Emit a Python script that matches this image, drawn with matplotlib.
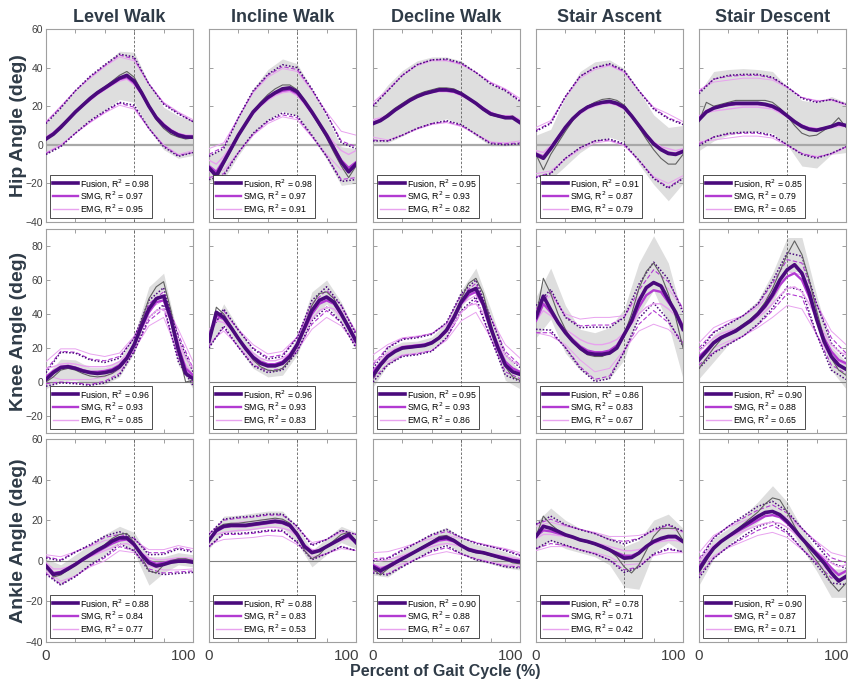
import numpy as np
import matplotlib
matplotlib.use("Agg")
import matplotlib.pyplot as plt
from matplotlib.lines import Line2D
from matplotlib import transforms

plt.rcParams["font.family"] = ["Liberation Sans", "DejaVu Sans"]

# gait cycle samples: means every 5 %, spreads every 10 %
pct = np.arange(0, 101, 5)
pct_coarse = np.arange(0, 101, 10)

tasks = ["Level Walk", "Incline Walk", "Decline Walk", "Stair Ascent", "Stair Descent"]
joints = ["Hip", "Knee", "Ankle"]

# ---------------- hip ----------------
hip_truth = [
    [3, 6, 10, 13.5, 17.5, 21, 24.5, 27.5, 30, 33, 36, 38, 35, 28, 20, 13, 8.5, 5.5, 4, 3, 3.5],
    [-12, -18, -10, -3, 4.5, 11, 17, 22, 26, 29, 31, 31, 28.5, 23, 16.5, 10, 3.5, -4, -11, -17, -11],
    [11, 13, 16, 19, 21.5, 24, 26, 27.5, 28.5, 29.5, 29.5, 29, 27, 24, 21, 18, 15.5, 14.5, 14, 15, 11],
    [-5, -13, -5, 1, 7, 12.5, 17, 20, 22, 23.5, 24, 23, 20.5, 15, 9, 3, -2.5, -7, -10, -10, -5],
    [12, 22, 20, 21, 22, 23, 23, 23, 23, 23, 22, 19, 15, 10, 6, 4.5, 5, 7.5, 10, 14, 9],
]
hip_fusion = [
    [3, 5.5, 9, 13, 17, 20.5, 24, 27, 29.5, 32, 34.5, 36, 33, 27, 20, 14, 10, 7, 5, 4, 4],
    [-12, -16, -9, -2, 5, 11, 17, 21, 24.5, 27, 29, 29.5, 27.5, 22.5, 17, 11, 5, -2, -9, -14, -10],
    [11, 12.5, 15, 18, 20.5, 23, 25, 26.5, 27.5, 28.5, 28.5, 28, 26.5, 24, 21.5, 18.5, 16, 15, 14, 14, 11.5],
    [-5, -7, -2, 3.5, 9, 13.5, 17, 19.5, 21, 22, 22.5, 21.5, 19.5, 15, 10, 5, 0.5, -2.5, -4.5, -5, -3.5],
    [13, 17, 19, 20, 21, 21.5, 21.5, 21.5, 21.5, 21, 20, 18, 15, 12, 9.5, 8, 7.5, 8.5, 9.5, 11, 10],
]
hip_smg = [
    [3.5, 6, 9.5, 13, 17, 20.5, 23.5, 26.5, 29, 31.5, 34, 35, 32, 26.5, 20, 14.5, 10.5, 7.5, 5.5, 4.5, 4],
    [-11, -14, -8, -1.5, 5, 11, 16.5, 20.5, 24, 26.5, 28, 28.5, 26.5, 22, 16.5, 11, 5, -1.5, -8, -12, -9],
    [11.5, 13, 15, 18, 20.5, 23, 25, 26.5, 27.5, 28, 28, 27.5, 26, 24, 21.5, 19, 16.5, 15, 14.5, 14.5, 12],
    [-4.5, -6, -1.5, 4, 9, 13.5, 17, 19.5, 21, 22, 22, 21, 19, 15, 10, 5, 1, -2, -4, -4.5, -3],
    [14, 17.5, 19, 20, 20.5, 21, 21, 21, 21, 20.5, 19.5, 17.5, 15, 12, 10, 8.5, 8, 8.5, 9.5, 10.5, 10],
]
hip_emg = [
    [4, 6.5, 10, 13.5, 17, 20, 23, 26, 28.5, 31, 33, 34, 31, 26, 20, 15, 11, 8, 6, 5, 5],
    [-8, -10, -6, -0.5, 5, 10.5, 16, 20, 23, 25.5, 27, 27.5, 25.5, 21, 16, 11, 6, 1, -3, -5, -3],
    [13, 14, 15.5, 18, 20.5, 22.5, 24.5, 26, 27, 27.5, 27.5, 27, 25.5, 23.5, 21.5, 19, 17, 15.5, 15, 15, 13],
    [-3, -4, -0.5, 4, 8.5, 12.5, 16, 18.5, 20, 21, 21.5, 20.5, 18.5, 14.5, 10, 5.5, 1.5, -1, -2, -3, -2],
    [15, 16.5, 17.5, 18, 18.5, 19, 19.5, 19.5, 19.5, 19, 18.5, 16.5, 14.5, 12, 10, 9, 8.5, 8.5, 9, 9.5, 9.5],
]
hip_band = [
    [8, 10, 11, 11.5, 12, 12.5, 13, 12, 11, 11, 9],
    [7, 8, 10, 12, 13, 13.5, 13.5, 12.5, 11, 10, 9],
    [10, 15, 17, 17.5, 17, 16, 16.5, 16.5, 16, 14.5, 11],
    [10, 13, 18, 21, 21, 20, 19, 19, 18, 19, 15],
    [15, 18, 17, 16.5, 16, 16, 15, 17, 17, 15, 13],
]
hip_spread = [
    [8, 10, 11, 11.5, 12, 12.5, 12.5, 11.5, 11, 11, 8],
    [6, 7, 9, 11, 12, 12.5, 12.5, 12, 11, 10, 8],
    [9, 13, 15.5, 16.5, 16.5, 16, 16, 16, 15.5, 14, 11],
    [12, 13, 16, 18.5, 19, 19.5, 19, 18, 18, 18, 14],
    [13.5, 15, 15, 15, 15, 15, 15, 14.5, 14.5, 14, 11],
]

# ---------------- knee ----------------
knee_truth = [
    [0, 3, 7, 8, 7, 5, 3.5, 3, 3.5, 5, 8, 13, 22, 36, 49, 56, 59, 42, 18, 0, 1],
    [24, 44, 40, 33, 26, 19, 13, 9, 7, 6.5, 8, 13, 21, 33, 45, 52, 53, 49, 41, 32, 24],
    [2, 9, 15, 18, 19.5, 20, 20.5, 21, 23, 26, 31, 39, 49, 58, 61, 52, 35, 20, 9, 3, 1],
    [38, 61, 52, 40, 31, 24, 19, 16, 15, 15, 17, 21, 28, 40, 55, 65, 70, 63, 52, 38, 20],
    [8, 14, 20, 25, 28, 31, 34, 37, 41, 47, 55, 65, 75, 83, 75, 60, 42, 26, 14, 7, 4],
]
knee_fusion = [
    [1.5, 5.5, 8.5, 9, 8, 6.5, 5.5, 5, 5.5, 6.5, 9, 14, 22, 33, 43, 49, 50.5, 37, 19, 5, 2],
    [24, 41, 38, 32, 25.5, 19.5, 14.5, 11, 9.5, 9.5, 11, 15, 22, 32, 42, 48, 50, 47, 40, 32, 24],
    [4, 10, 15, 18, 20, 20.5, 21, 21.5, 23, 26, 30.5, 38, 47, 53, 55, 46, 32, 20, 10, 6, 4.5],
    [38, 50.5, 42.5, 35, 29, 24, 20, 17, 16.3, 16.3, 17, 20, 28, 36, 47.5, 55.5, 58.5, 56.5, 48.5, 41, 31],
    [13, 18, 23, 26, 28, 30, 33, 36, 40, 45, 51.5, 60, 66, 69, 64, 52.5, 37, 24, 15, 10, 7.5],
]
knee_smg = [
    [3, 6.5, 9, 9.5, 8.5, 7, 6, 6, 6.5, 7.5, 10, 14.5, 22, 32, 41, 47, 48, 37, 21, 8, 4],
    [25, 39, 37, 31.5, 25.5, 20, 15, 12, 10.5, 10.5, 12, 16, 22.5, 31, 40, 46, 48, 46, 40, 33, 25],
    [6, 11, 15.5, 18.5, 20.5, 21, 21.5, 22, 23.5, 26, 30, 37, 46, 51, 53, 45, 32, 21, 12, 8, 6],
    [36, 46, 41, 35, 29.5, 25, 21, 18.5, 17.5, 17.5, 18.5, 21.5, 28, 35, 44, 51, 54, 53, 47, 41, 33],
    [15, 19, 23.5, 26.5, 28.5, 30.5, 33, 36, 39.5, 44, 50, 57, 62, 64, 60, 50, 37, 26, 18, 13, 11],
]
knee_emg = [
    [8, 9, 10.5, 11, 10.5, 9.5, 9, 9, 9, 10, 12, 16, 23, 31, 38, 42, 43, 36, 24, 14, 8],
    [27, 36, 35, 31, 26, 21, 17, 14, 12.5, 12.5, 14, 17, 22.5, 30, 37, 42, 44, 43, 38, 32, 26],
    [12, 14, 17, 19.5, 21, 21.5, 22, 22.5, 23.5, 25.5, 29, 34, 41, 45, 46, 41, 32, 23, 16, 12, 10],
    [36, 42, 39, 35, 31, 28, 25, 23, 22, 22, 23, 25, 29, 34, 40, 44, 46, 46, 43, 39, 33],
    [18, 22, 26, 28.5, 30, 31.5, 33, 35, 38, 41.5, 46, 51, 55, 56, 53, 46, 37, 29, 22, 18, 16],
]
knee_band = [
    [4, 6.5, 6, 5, 5, 5, 5, 7, 5, 8, 5],
    [4, 6, 6, 5, 4, 4, 5, 8, 7, 6, 5],
    [5, 5, 4, 3.5, 3.5, 4, 5, 6, 8, 8, 5],
    [12, 15, 14, 12, 14, 15, 15, 15, 16, 18, 18],
    [6, 8, 6, 6, 7, 9, 10, 10, 9, 7, 8],
]
knee_spread = [
    [4, 9, 9, 7.5, 6, 5, 4, 5, 5, 7, 4],
    [4, 5, 5, 5, 4, 4, 4, 6, 6, 5, 4],
    [4, 5, 5, 5, 5, 4.5, 5, 5, 6, 6, 4],
    [7, 12, 9, 12, 16, 15, 10, 10, 12, 12, 10],
    [5, 6, 6, 6, 6, 8, 10, 10, 9, 8, 6],
]

# ---------------- ankle ----------------
ankle_truth = [
    [-2, -8, -7, -4.5, -2, 0.5, 3, 5.5, 8, 11, 13, 13.5, 9, 2, -5, -6, -2, 0, 1, 1, 0],
    [9, 16, 18, 18.5, 18.5, 19, 19.5, 20, 20.5, 21, 20.5, 18.5, 13, 5, 1, 3, 7, 10, 13, 14, 10],
    [-4, -7, -4, -1.5, 1, 3, 5.5, 7.5, 9.5, 12, 12.5, 10.5, 7.5, 5, 4, 3.5, 2.5, 1.5, 0.5, -1, -1.5],
    [12, 22, 18, 15, 13, 11.5, 10, 9, 8, 6.5, 5, 2, -3, -6, -2, 5, 12, 16, 16, 16, 10],
    [-6, 0, 6, 9.5, 12, 15, 18, 21, 24, 28, 31, 30, 24, 17, 11, 5, 0, -5, -11, -15, -11],
]
ankle_fusion = [
    [-2.6, -6.7, -6, -4, -1.8, 0.7, 3, 5.3, 7.2, 9.7, 11.3, 11.3, 8, 3, -1, -2.6, -1.8, -0.7, -0.2, -0.2, -0.7],
    [10, 15, 17, 17.5, 17.5, 17.5, 18, 18.5, 19, 19.5, 19, 17.5, 13, 7, 4, 5, 7, 9, 11, 13, 9],
    [-3, -5, -3, -1, 1, 3, 5, 7, 9, 11, 11.5, 10, 7.5, 5.5, 4.5, 4, 3, 2, 1, 0, -0.5],
    [12, 17, 16, 14.5, 12.8, 11.7, 10.3, 9.5, 8.4, 7, 5.4, 3.4, 1.3, 1.6, 3.8, 7, 9.5, 11, 12, 12, 9.5],
    [-4.4, 1.3, 6.2, 9.5, 12, 14.5, 17, 19.4, 21.8, 23.8, 24.3, 22.7, 19.4, 15.3, 11, 7, 3, -1.1, -6, -10, -7.7],
]
ankle_smg = [
    [-2, -6, -5.5, -3.5, -1.5, 0.5, 2.5, 4.5, 6.5, 8.5, 10, 10.5, 8, 3.5, 0, -1.5, -1, 0, 0.5, 0.5, 0],
    [10, 14.5, 16.5, 17, 17, 17, 17.5, 18, 18.5, 19, 18.5, 17, 13, 7.5, 4.5, 5, 7, 9, 11, 12, 9],
    [-2, -4, -2.5, -0.5, 1.5, 3, 5, 7, 8.5, 10, 10.5, 9.5, 7.5, 6, 5, 4, 3, 2, 1.5, 0.5, 0],
    [12, 15, 14.5, 13.5, 12.5, 11.5, 10.5, 9.5, 8.5, 7, 5.5, 4, 2.5, 2.5, 4, 7, 9, 10.5, 11.5, 11.5, 9.5],
    [-3, 2, 6.5, 9.5, 12, 14, 16, 18, 20, 22, 22.5, 21.5, 18.5, 15, 11, 7.5, 4, 0.5, -3.5, -7, -5],
]
ankle_emg = [
    [-1, -4, -4, -3, -1.5, 0, 2, 3.5, 5, 6.5, 8, 8.5, 7, 4, 1.5, 0.5, 0.5, 1, 1.5, 1.5, 1],
    [11, 13, 14, 14.5, 15, 15, 15.5, 16, 16.5, 16.5, 16, 15, 12, 8, 5.5, 5.5, 7, 8.5, 10, 11, 9],
    [1, 0, 0.5, 1.5, 2.5, 4, 5, 6, 7, 8, 8.5, 8, 7, 6, 5, 4.5, 3.5, 3, 2, 1.5, 1],
    [11, 13, 13, 12.5, 12, 11, 10.5, 10, 9, 8, 7, 6, 5, 5, 5.5, 7, 8.5, 9.5, 10, 10, 9],
    [0, 4, 7.5, 10, 11.5, 13, 14.5, 16, 17.5, 18.5, 19, 18.5, 16.5, 13.5, 10.5, 7.5, 4.5, 2, -1, -3, -2],
]
ankle_band = [
    [3, 5, 5, 5, 5, 4, 5, 7, 4, 3, 3],
    [3, 4, 4, 4, 4, 4, 4, 4, 4, 4, 4],
    [3, 4, 4, 4, 4, 4, 4, 4, 4, 4, 3],
    [7, 8, 7, 6, 6, 7, 10, 12, 8, 7, 6],
    [6, 5, 4, 4, 5, 6, 5, 5, 5, 7, 7],
]
ankle_spread = [
    [4, 6, 6, 5, 5, 3, 3, 4, 5, 6, 5],
    [3, 3.5, 4, 4, 4, 4, 4, 3.5, 3.5, 4, 4],
    [3, 4, 4, 4, 4, 4, 4, 4, 4, 4, 3],
    [6, 6, 5, 5, 5, 5, 7, 7, 6, 6, 5],
    [4, 5, 5, 5, 5, 5, 5, 5, 5, 5, 4],
]

# R^2 per joint (rows) and task (columns)
r2_fusion = [[0.98, 0.98, 0.95, 0.91, 0.85], [0.96, 0.96, 0.95, 0.86, 0.90], [0.88, 0.88, 0.90, 0.78, 0.90]]
r2_smg = [[0.97, 0.97, 0.93, 0.87, 0.79], [0.93, 0.93, 0.93, 0.83, 0.88], [0.84, 0.83, 0.88, 0.71, 0.87]]
r2_emg = [[0.95, 0.91, 0.82, 0.79, 0.65], [0.85, 0.83, 0.86, 0.67, 0.65], [0.77, 0.53, 0.67, 0.42, 0.71]]

truth_all = [hip_truth, knee_truth, ankle_truth]
fusion_all = [hip_fusion, knee_fusion, ankle_fusion]
smg_all = [hip_smg, knee_smg, ankle_smg]
emg_all = [hip_emg, knee_emg, ankle_emg]
band_all = [hip_band, knee_band, ankle_band]
spread_all = [hip_spread, knee_spread, ankle_spread]

FUS = "#4a0a7c"
SMG = "#b23ad2"
EMG = "#e8a2ef"
TXT = "#2f3b47"

ylims = [(-40, 60), (-30, 90), (-40, 60)]
yticks = [np.arange(-40, 61, 20), np.arange(-20, 81, 20), np.arange(-40, 61, 20)]

W, H = 853, 682
col_left = [46, 209, 373, 536, 699]
col_w = 147
rows_px = [(29, 222), (229, 433), (439, 642)]

fig = plt.figure(figsize=(W / 100, H / 100), dpi=100)

for r in range(3):
    top, bot = rows_px[r]
    for c in range(5):
        ax = fig.add_axes([col_left[c] / W, 1 - bot / H, col_w / W, (bot - top) / H])
        truth = np.array(truth_all[r][c])
        fu = np.array(fusion_all[r][c])
        sm = np.array(smg_all[r][c])
        em = np.array(emg_all[r][c])
        band = np.array(band_all[r][c])
        spread = np.array(spread_all[r][c])

        ax.fill_between(pct_coarse, truth[::2] - band, truth[::2] + band,
                        color="#dedede", lw=0, zorder=1)
        if r == 0:
            ax.axhline(0, color="#a8a8a8", lw=1.6, zorder=2)
        else:
            ax.axhline(0, color="#808080", lw=0.8, zorder=2)
        ax.axvline(60, color="#606060", lw=0.6, ls=(0, (3, 2)), zorder=2)

        for sign in (-1, 1):
            ax.plot(pct_coarse, em[::2] + sign * spread, color=EMG, lw=0.7, zorder=3)
            ax.plot(pct_coarse, sm[::2] + sign * spread, color=SMG, lw=0.8,
                    ls=(0, (4, 2)), zorder=3)
            ax.plot(pct_coarse, fu[::2] + sign * spread, color=FUS, lw=1.1,
                    ls=(0, (1, 1.2)), zorder=4)

        ax.plot(pct, em, color=EMG, lw=1.0, zorder=5)
        ax.plot(pct, sm, color=SMG, lw=1.7, zorder=6)
        ax.plot(pct, truth, color="#606060", lw=0.8, zorder=6)
        ax.plot(pct, fu, color=FUS, lw=2.6, zorder=7)

        ax.set_xlim(0, 100)
        ax.set_ylim(*ylims[r])
        ax.set_xticks(np.arange(0, 101, 20))
        ax.set_yticks(yticks[r])
        ax.tick_params(direction="in", length=3, width=0.6, color="#909090",
                       top=True, right=True, labelsize=7.5, labelcolor="#404040", pad=2)
        for sp in ax.spines.values():
            sp.set_color("#a0a0a0")
            sp.set_linewidth(0.8)

        if r == 2:
            ax.set_xticklabels(["0", "", "", "", "", "100"], fontsize=11, color="#404040")
            ax.tick_params(axis="x", pad=5)
            last = ax.get_xticklabels()[-1]
            last.set_ha("right")
            last.set_transform(last.get_transform() +
                               transforms.ScaledTranslation(3 / 100, 0, fig.dpi_scale_trans))
        else:
            ax.set_xticklabels([])
        if c == 0:
            ax.set_ylabel(f"{joints[r]} Angle (deg)", fontsize=14, fontweight="bold",
                          color=TXT, labelpad=-1)
        else:
            ax.set_yticklabels([])
        if r == 0:
            ax.set_title(tasks[c], fontsize=13, fontweight="bold", color=TXT, pad=5)

        handles = [Line2D([], [], color=FUS, lw=2.6),
                   Line2D([], [], color=SMG, lw=1.7),
                   Line2D([], [], color=EMG, lw=1.0)]
        labels = [f"Fusion, R$^2$ = {r2_fusion[r][c]:.2f}",
                  f"SMG, R$^2$ = {r2_smg[r][c]:.2f}",
                  f"EMG, R$^2$ = {r2_emg[r][c]:.2f}"]
        leg = ax.legend(handles, labels, loc="lower left", fontsize=6.3, frameon=True,
                        fancybox=False, edgecolor="#303030", framealpha=1,
                        borderpad=0.25, labelspacing=0.02, handlelength=2.9,
                        handletextpad=0.2, borderaxespad=0.5)
        leg.get_frame().set_linewidth(0.6)
        leg.set_zorder(10)

fig.text(0.522, 0.016, "Percent of Gait Cycle (%)", ha="center", va="center",
         fontsize=11.5, fontweight="bold", color=TXT)

fig.savefig("out.png", dpi=100)
